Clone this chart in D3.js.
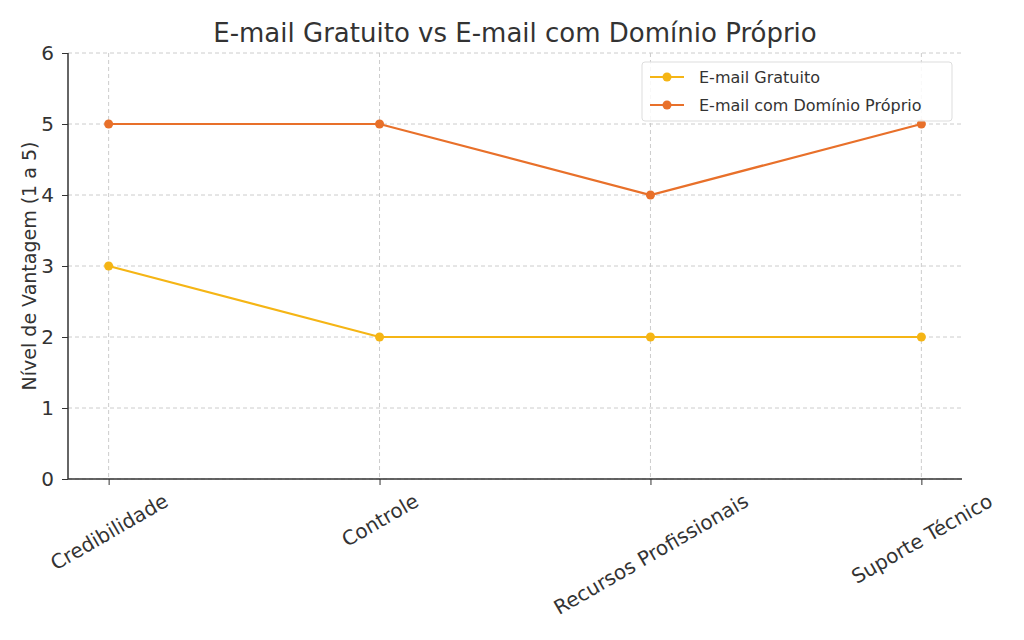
<!DOCTYPE html>
<html><head><meta charset="utf-8">
<script src="https://cdn.jsdelivr.net/npm/d3@7"></script>
<style>body{margin:0;background:#fff}text{font-family:"DejaVu Sans",sans-serif;fill:#333}</style>
</head><body>
<script>
const categories = ["Credibilidade", "Controle", "Recursos Profissionais", "Suporte Técnico"];
const gratuito = [3, 2, 2, 2];
const dominio = [5, 5, 4, 5];
const yTicks = [0, 1, 2, 3, 4, 5, 6];
const seriesNames = ["E-mail Gratuito", "E-mail com Domínio Próprio"];
const seriesColors = ["#f5b515", "#e8702a"];

const W = 1024, H = 640, m = {left: 68, right: 62, top: 53, bottom: 161};
const svg = d3.select("body").append("svg").attr("width", W).attr("height", H);

const x = d3.scalePoint().domain(categories).range([m.left, W - m.right]).padding(0.15);
const y = d3.scaleLinear().domain([0, 6]).range([H - m.bottom, m.top]);

// grid
svg.append("g").selectAll("line").data(yTicks).join("line")
  .attr("x1", m.left).attr("x2", W - m.right)
  .attr("y1", d => y(d)).attr("y2", d => y(d))
  .attr("stroke", "#ccc").attr("stroke-dasharray", "4,3");
svg.append("g").selectAll("line").data(categories).join("line")
  .attr("x1", d => x(d)).attr("x2", d => x(d))
  .attr("y1", m.top).attr("y2", H - m.bottom)
  .attr("stroke", "#ccc").attr("stroke-dasharray", "4,3");

// axes
const ya = svg.append("g").attr("transform", `translate(${m.left},0)`)
  .call(d3.axisLeft(y).tickValues(yTicks).tickFormat(d3.format("d")).tickSize(6).tickPadding(8));
ya.select(".domain").attr("d", `M0,${m.top}V${H - m.bottom}`).attr("stroke", "#333").attr("stroke-width", 1.5);
ya.selectAll("text").style("font-size", "20px");
ya.selectAll(".tick line").attr("stroke", "#333");

const xa = svg.append("g").attr("transform", `translate(0,${H - m.bottom})`)
  .call(d3.axisBottom(x).tickSize(6).tickPadding(0));
xa.select(".domain").attr("d", `M${m.left},0H${W - m.right}`).attr("stroke", "#333").attr("stroke-width", 1.5);
xa.selectAll(".tick line").attr("stroke", "#333");
xa.selectAll(".tick text").each(function() {
  const t = d3.select(this);
  const w = this.getComputedTextLength ? 0 : 0;
  t.style("font-size", "20px").attr("text-anchor", "middle").attr("dy", "0.35em").attr("y", 0);
  const len = this.getComputedTextLength();
  const cy = 12 + len / 2 * Math.sin(Math.PI / 6) + 8;
  t.attr("transform", `translate(0,${cy}) rotate(-30)`);
});

// lines
[gratuito, dominio].forEach((vals, i) => {
  const pts = categories.map((c, j) => [x(c), y(vals[j])]);
  svg.append("path").attr("d", d3.line()(pts)).attr("fill", "none")
    .attr("stroke", seriesColors[i]).attr("stroke-width", 2.2);
  svg.append("g").selectAll("circle").data(pts).join("circle")
    .attr("cx", d => d[0]).attr("cy", d => d[1]).attr("r", 4.5).attr("fill", seriesColors[i]);
});

// title & label
svg.append("text").attr("x", 515).attr("y", 42).attr("text-anchor", "middle")
  .style("font-size", "26px").text("E-mail Gratuito vs E-mail com Domínio Próprio");
svg.append("text").attr("transform", `translate(36,${(m.top + H - m.bottom) / 2}) rotate(-90)`)
  .attr("text-anchor", "middle").style("font-size", "19px").text("Nível de Vantagem (1 a 5)");

// legend
const lg = svg.append("g").attr("transform", "translate(642,62)");
lg.append("rect").attr("width", 310).attr("height", 59).attr("rx", 3)
  .attr("fill", "#fff").attr("fill-opacity", 0.85).attr("stroke", "#ddd");
seriesNames.forEach((n, i) => {
  const yy = 15 + i * 28;
  lg.append("line").attr("x1", 8).attr("x2", 42).attr("y1", yy).attr("y2", yy)
    .attr("stroke", seriesColors[i]).attr("stroke-width", 2.2);
  lg.append("circle").attr("cx", 25).attr("cy", yy).attr("r", 4.5).attr("fill", seriesColors[i]);
  lg.append("text").attr("x", 57).attr("y", yy + 6).style("font-size", "16px").text(n);
});
</script>
</body></html>
